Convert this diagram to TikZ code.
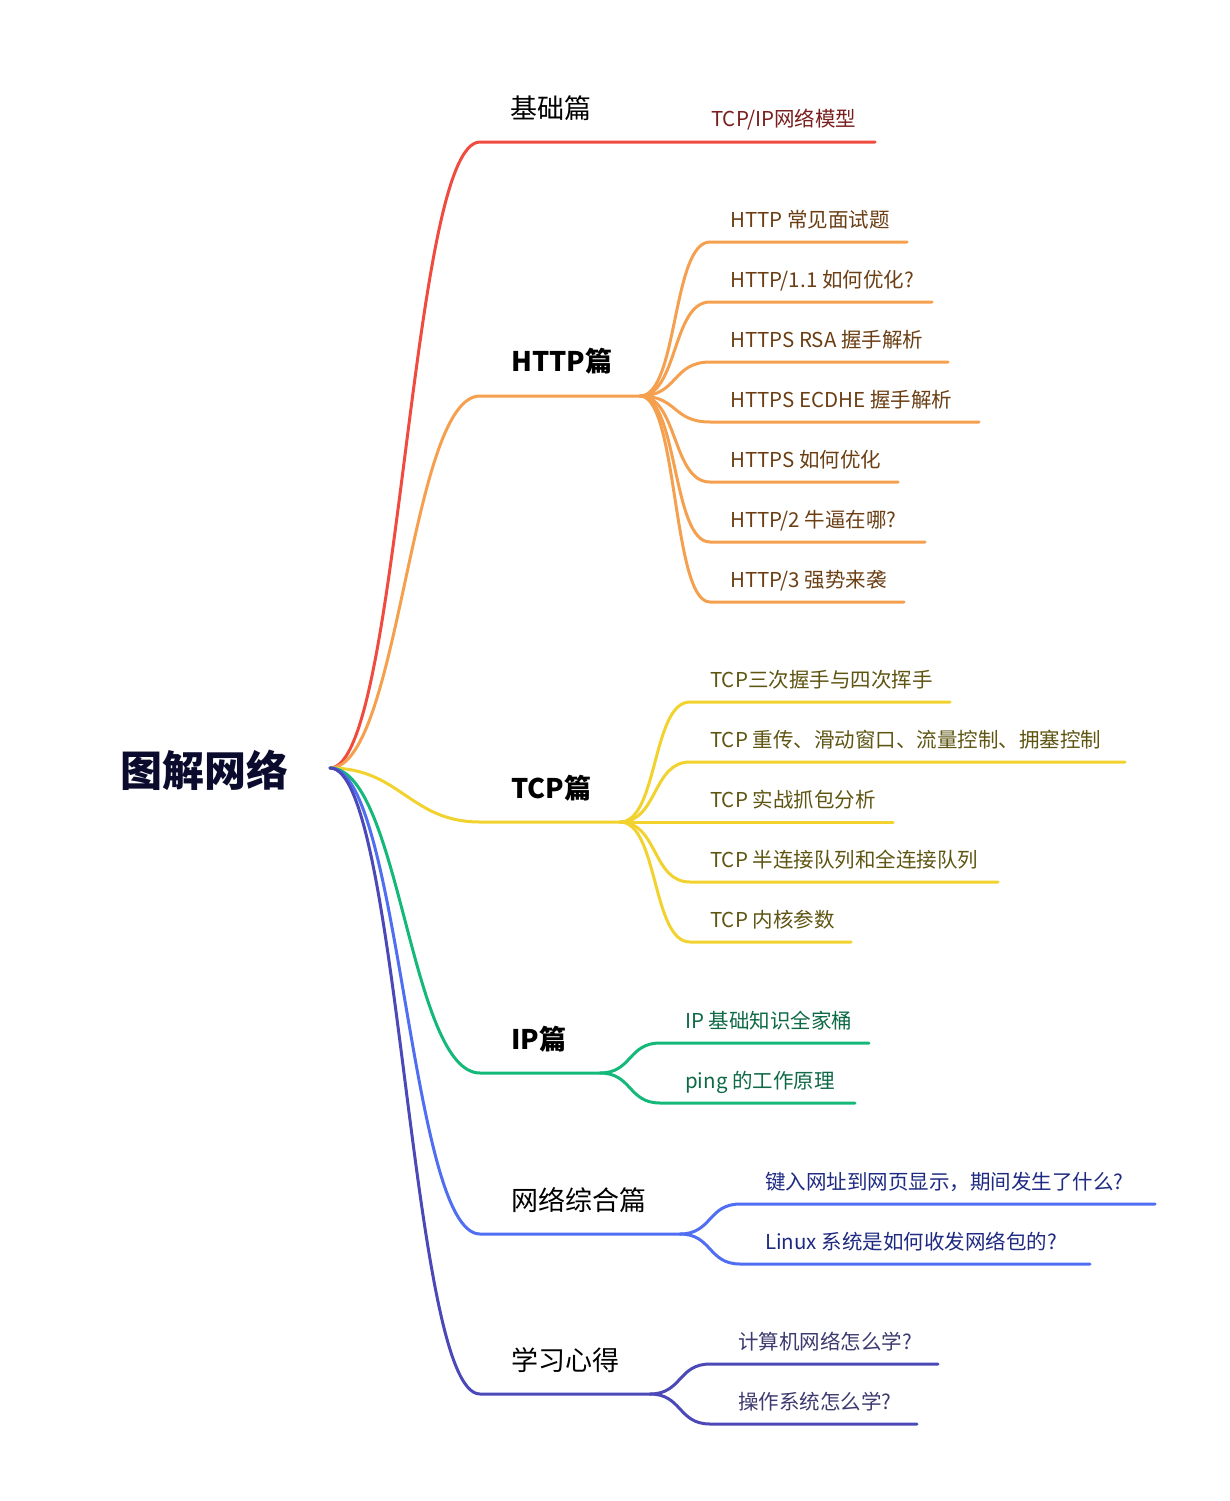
\documentclass[tikz,border=0pt]{standalone}
\usepackage{fontspec}
\setmainfont{Noto Sans CJK SC}
\usepackage{tikz}

\definecolor{cRed}{HTML}{F04B3F}
\definecolor{cOrange}{HTML}{F5A04F}
\definecolor{cYellow}{HTML}{F2D22E}
\definecolor{cGreen}{HTML}{14B879}
\definecolor{cBlue}{HTML}{4F6EF2}
\definecolor{cIndigo}{HTML}{4B48B8}
\definecolor{tRed}{HTML}{7A1E1E}
\definecolor{tOrange}{HTML}{6B3E14}
\definecolor{tYellow}{HTML}{5E5512}
\definecolor{tGreen}{HTML}{0E6A46}
\definecolor{tBlue}{HTML}{1E2A82}
\definecolor{tIndigo}{HTML}{3C3A6E}
\definecolor{cTitle}{HTML}{0B0B2E}

\begin{document}
\begin{tikzpicture}[x=1pt,y=-1pt,
	every node/.style={inner sep=0pt,anchor=base west},
	root/.style={font=\fontsize{42}{46}\selectfont\bfseries,text=cTitle},
	cat/.style={font=\fontsize{27}{30}\selectfont,text=black},
	catb/.style={font=\fontsize{27}{30}\selectfont\bfseries,text=black},
	leaf/.style={font=\fontsize{20.5}{24}\selectfont},
	link/.style={line width=3pt,line cap=round}]
	\useasboundingbox (0,0) rectangle (1230,1501);
	\node[root] (net) at (120,786) {图解网络};
	\coordinate (net-r) at (330,768);
	% 基础篇
	\node[cat] (base) at (510,118) {基础篇};
	\coordinate (base-a) at (480,142);
	\coordinate (base-e) at (875,142);
	\draw[link,cRed] (net-r) .. controls +(70,0) and +(-70,0) .. (base-a) -- (base-e);
	\node[leaf,text=tRed] (base-1) at (711,127) {TCP/IP网络模型};
	% HTTP篇
	\node[catb] (http) at (511,371) {HTTP篇};
	\coordinate (http-a) at (480,396);
	\coordinate (http-h) at (640,396);
	\draw[link,cOrange] (net-r) .. controls +(70,0) and +(-70,0) .. (http-a) -- (http-h);
	\foreach \i/\y/\e/\t in {1/242/907/{HTTP 常见面试题},2/302/932/{HTTP/1.1 如何优化?},
		3/362/948/{HTTPS RSA 握手解析},4/422/979/{HTTPS ECDHE 握手解析},5/482/898/{HTTPS 如何优化},
		6/542/925/{HTTP/2 牛逼在哪?},7/602/904/{HTTP/3 强势来袭}} {
		\coordinate (http-\i-s) at (710,\y);
		\coordinate (http-\i-e) at (\e,\y);
		\draw[link,cOrange] (http-h) .. controls +(38,0) and +(-38,0) .. (http-\i-s) -- (http-\i-e);
		\node[leaf,text=tOrange] (http-\i) at (730,\y-15) {\t};
	}
	% TCP篇
	\node[catb] (tcp) at (511,798) {TCP篇};
	\coordinate (tcp-a) at (480,822);
	\coordinate (tcp-h) at (620,822);
	\draw[link,cYellow] (net-r) .. controls +(70,0) and +(-70,0) .. (tcp-a) -- (tcp-h);
	\foreach \i/\y/\e/\t in {1/702/950/{TCP三次握手与四次挥手},2/762/1125/{TCP 重传、滑动窗口、流量控制、拥塞控制},
		3/822/893/{TCP 实战抓包分析},4/882/998/{TCP 半连接队列和全连接队列},5/942/851/{TCP 内核参数}} {
		\coordinate (tcp-\i-s) at (690,\y);
		\coordinate (tcp-\i-e) at (\e,\y);
		\draw[link,cYellow] (tcp-h) .. controls +(38,0) and +(-38,0) .. (tcp-\i-s) -- (tcp-\i-e);
		\node[leaf,text=tYellow] (tcp-\i) at (710,\y-15) {\t};
	}
	% IP篇
	\node[catb] (ip) at (511,1049) {IP篇};
	\coordinate (ip-a) at (480,1073);
	\coordinate (ip-h) at (600,1073);
	\draw[link,cGreen] (net-r) .. controls +(70,0) and +(-70,0) .. (ip-a) -- (ip-h);
	\foreach \i/\y/\e/\t in {1/1043/869/{IP 基础知识全家桶},2/1103/855/{ping 的工作原理}} {
		\coordinate (ip-\i-s) at (660,\y);
		\coordinate (ip-\i-e) at (\e,\y);
		\draw[link,cGreen] (ip-h) .. controls +(32,0) and +(-32,0) .. (ip-\i-s) -- (ip-\i-e);
		\node[leaf,text=tGreen] (ip-\i) at (685,\y-15) {\t};
	}
	% 网络综合篇
	\node[cat] (mix) at (511,1210) {网络综合篇};
	\coordinate (mix-a) at (480,1234);
	\coordinate (mix-h) at (680,1234);
	\draw[link,cBlue] (net-r) .. controls +(70,0) and +(-70,0) .. (mix-a) -- (mix-h);
	\foreach \i/\y/\e/\t in {1/1204/1155/{键入网址到网页显示，期间发生了什么?},2/1264/1090/{Linux 系统是如何收发网络包的?}} {
		\coordinate (mix-\i-s) at (740,\y);
		\coordinate (mix-\i-e) at (\e,\y);
		\draw[link,cBlue] (mix-h) .. controls +(32,0) and +(-32,0) .. (mix-\i-s) -- (mix-\i-e);
		\node[leaf,text=tBlue] (mix-\i) at (765,\y-15) {\t};
	}
	% 学习心得
	\node[cat] (learn) at (511,1370) {学习心得};
	\coordinate (learn-a) at (480,1394);
	\coordinate (learn-h) at (650,1394);
	\draw[link,cIndigo] (net-r) .. controls +(70,0) and +(-70,0) .. (learn-a) -- (learn-h);
	\foreach \i/\y/\e/\t in {1/1364/938/{计算机网络怎么学?},2/1424/917/{操作系统怎么学?}} {
		\coordinate (learn-\i-s) at (710,\y);
		\coordinate (learn-\i-e) at (\e,\y);
		\draw[link,cIndigo] (learn-h) .. controls +(32,0) and +(-32,0) .. (learn-\i-s) -- (learn-\i-e);
		\node[leaf,text=tIndigo] (learn-\i) at (738,\y-15) {\t};
	}
\end{tikzpicture}
\end{document}
